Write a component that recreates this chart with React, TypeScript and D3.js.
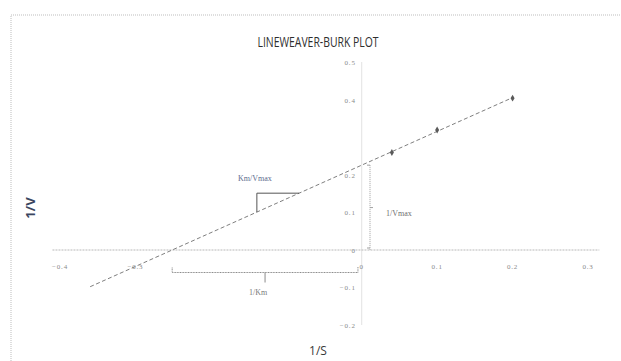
import React from 'react';
import * as d3 from 'd3';

// Reciprocal substrate concentration vs reciprocal velocity
const invS = [0.04, 0.1, 0.2];
const invV = [0.26, 0.32, 0.405];

// Axis ticks
const xTicks = [-0.4, -0.3, 0, 0.1, 0.2, 0.3];
const yTicks = [0.5, 0.4, 0.2, 0.1, 0, -0.1, -0.2];

// Trendline extends backward from the first point by this amount
const backwardForecast = 0.4;
// Horizontal run of the slope triangle (in 1/S units)
const slopeRun = [-0.139, -0.083];

const W = 621;
const H = 361;

function linearFit(xs: number[], ys: number[]) {
  const mx = d3.mean(xs) as number;
  const my = d3.mean(ys) as number;
  let sxy = 0;
  let sxx = 0;
  xs.forEach((x, i) => {
    sxy += (x - mx) * (ys[i] - my);
    sxx += (x - mx) * (x - mx);
  });
  const m = sxy / sxx;
  return { m, b: my - m * mx };
}

export default function App() {
  const x = d3.scaleLinear().domain([-0.4, 0.3]).range([60, 588]);
  const y = d3.scaleLinear().domain([-0.2, 0.5]).range([325, 62.5]);

  const { m, b } = linearFit(invS, invV);
  const f = (v: number) => m * v + b;
  const x0 = (d3.min(invS) as number) - backwardForecast;
  const x1 = d3.max(invS) as number;
  const xInt = -b / m;

  const line = d3
    .line<number>()
    .x((d) => x(d))
    .y((d) => y(f(d)));

  const pts = invS.map((s, i) => [s, invV[i]]);
  const diamond = d3.symbol().type(d3.symbolDiamond).size(14)() as string;

  const tickFont = "'Liberation Serif', serif";
  const annFont = "'Liberation Serif', serif";

  // Slope triangle
  const [ta, tb] = slopeRun;
  const tri = `M${x(ta)},${y(f(ta))} L${x(ta)},${y(f(tb))} L${x(tb)},${y(f(tb))}`;

  // 1/Km brace along the negative x axis
  const braceY = y(-0.06);
  const kmL = x(xInt);
  const kmR = x(-0.005);
  const kmMid = (kmL + kmR) / 2;
  const kmBrace = `M${kmL},${braceY - 5} L${kmL},${braceY} L${kmR},${braceY} L${kmR},${braceY - 6}`;

  // 1/Vmax brace next to the y axis
  const vx = x(0.011);
  const vTop = y(b);
  const vBot = y(0);
  const vMid = (vTop + vBot) / 2;

  return (
    <svg
      width={W}
      height={H}
      style={{ position: 'absolute', left: 0, top: 0, background: '#fff' }}
    >
      {/* chart frame */}
      <path
        d={`M11,${H} L11,15 L${W},15`}
        fill="none"
        stroke="#bdbdbd"
        strokeWidth={1}
        strokeDasharray="1,1"
      />

      <text
        x={318}
        y={47}
        textAnchor="middle"
        fontFamily="'Liberation Sans Narrow', 'Open Sans', sans-serif"
        fontSize={14}
        fill="#2e2e2e"
        textLength={121}
        lengthAdjust="spacingAndGlyphs"
      >
        LINEWEAVER-BURK PLOT
      </text>

      {/* axes */}
      <line
        x1={x(-0.41)}
        x2={x(0.315)}
        y1={y(0)}
        y2={y(0)}
        stroke="#b8b8b8"
        strokeWidth={1}
        strokeDasharray="2,1"
      />
      <line
        x1={x(0)}
        x2={x(0)}
        y1={y(0.5)}
        y2={y(-0.2)}
        stroke="#c4c4c4"
        strokeWidth={1}
        strokeDasharray="1,1"
      />

      {yTicks.map((t) => (
        <text
          key={'y' + t}
          x={x(0) - 6}
          y={y(t) + 2.5}
          textAnchor="end"
          fontFamily={tickFont}
          fontSize={7}
          letterSpacing={0.8}
          fill="#8a8a8a"
        >
          {d3.format('.1~f')(t)}
        </text>
      ))}
      {xTicks.map((t) => (
        <text
          key={'x' + t}
          x={x(t)}
          y={y(0) + 19}
          textAnchor="middle"
          fontFamily={tickFont}
          fontSize={7}
          letterSpacing={0.8}
          fill="#8a8a8a"
        >
          {d3.format('.1~f')(t)}
        </text>
      ))}

      {/* trendline */}
      <path
        d={line([x0, x1]) as string}
        fill="none"
        stroke="#6f6f6f"
        strokeWidth={0.9}
        strokeDasharray="4,2.5"
      />
      {pts.map(([s, v], i) => (
        <path
          key={'p' + i}
          d={diamond}
          transform={`translate(${x(s)},${y(v)})`}
          fill="#5a5a5a"
        />
      ))}

      {/* slope triangle */}
      <path d={tri} fill="none" stroke="#555" strokeWidth={1} />
      <text
        x={x((ta + tb) / 2) - 40}
        y={y(f(tb)) - 12}
        fontFamily={annFont}
        fontSize={8}
        fill="#5d6b8e"
      >
        Km/Vmax
      </text>

      {/* 1/Km brace */}
      <path d={kmBrace} fill="none" stroke="#8a8a8a" strokeWidth={1} strokeDasharray="1,0.6" />
      <line x1={kmMid} x2={kmMid} y1={braceY} y2={braceY + 10} stroke="#8a8a8a" strokeWidth={1} />
      <text
        x={kmMid - 16}
        y={y(-0.12)}
        fontFamily={annFont}
        fontSize={8}
        fill="#7a7a7a"
      >
        1/Km
      </text>

      {/* 1/Vmax brace */}
      <line x1={vx} x2={vx} y1={vTop} y2={vBot} stroke="#a0a0a0" strokeWidth={1} strokeDasharray="1,1" />
      <line x1={vx - 3} x2={vx} y1={vTop} y2={vTop} stroke="#a0a0a0" strokeWidth={1} />
      <line x1={vx - 3} x2={vx} y1={vBot - 2} y2={vBot - 2} stroke="#a0a0a0" strokeWidth={1} />
      <line x1={vx} x2={vx + 3} y1={vMid} y2={vMid} stroke="#a0a0a0" strokeWidth={1} />
      <text
        x={vx + 16}
        y={vMid + 8}
        fontFamily={annFont}
        fontSize={8}
        fill="#6f6f6f"
      >
        1/Vmax
      </text>

      {/* axis titles */}
      <text
        transform={`translate(35,${208}) rotate(-90)`}
        textAnchor="middle"
        fontFamily="'Open Sans', sans-serif"
        fontWeight="bold"
        fontSize={13}
        fill="#3b4660"
      >
        1/V
      </text>
      <text
        x={318}
        y={355}
        textAnchor="middle"
        fontFamily="'Open Sans', sans-serif"
        fontSize={12}
        fill="#3a3a3a"
      >
        1/S
      </text>
    </svg>
  );
}
